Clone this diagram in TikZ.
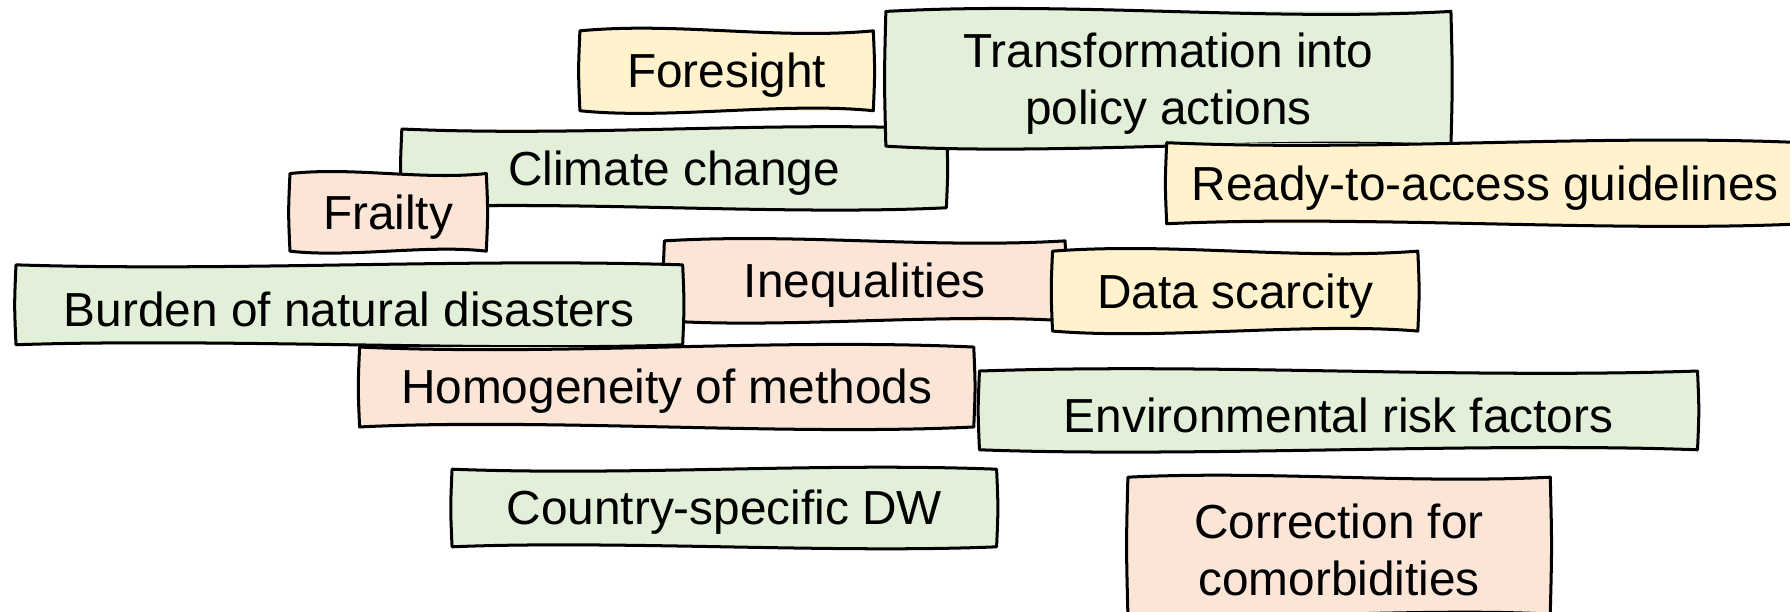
\documentclass[tikz,border=0pt]{standalone}
\usepackage{fontspec}
\setmainfont{Liberation Sans}
\usetikzlibrary{calc}
\definecolor{skgreen}{HTML}{E2F0D9}
\definecolor{skpeach}{HTML}{FBE5D6}
\definecolor{skyellow}{HTML}{FFF2CC}
\tikzset{
  skline/.style={draw=black, line width=0.75pt, line join=round},
  sktext/.style={inner sep=0pt, align=center, font=\fontsize{11.9}{14.2}\selectfont},
}
% #1 name, #2 colour, #3 left, #4 top, #5 right, #6 bottom, #7 wave, #8 text
\newcommand\skbox[8]{%
  \coordinate (#1-nw) at (#3,#4);
  \coordinate (#1-ne) at (#5,#4);
  \coordinate (#1-se) at (#5,#6);
  \coordinate (#1-sw) at (#3,#6);
  \fill[#2, shift={(2,3)}] (#1-nw) rectangle (#1-se);
  \path[skline, fill=#2]
    (#1-nw) .. controls ($(#1-nw)!.33!(#1-ne)+(0,#7)$) and ($(#1-nw)!.67!(#1-ne)-(0,#7)$) .. (#1-ne)
    .. controls ($(#1-ne)!.5!(#1-se)+(1.5,0)$) .. (#1-se)
    .. controls ($(#1-se)!.3!(#1-sw)+(0,#7)$) and ($(#1-se)!.7!(#1-sw)-(0,#7)$) .. (#1-sw)
    .. controls ($(#1-sw)!.5!(#1-nw)-(1.5,0)$) .. cycle;
  \node[sktext] (#1) at ($(#1-nw)!.5!(#1-se)+(0,4)$) {#8};
}
\begin{document}
\begin{tikzpicture}[x=0.01cm, y=-0.01cm]
\useasboundingbox (0,0) rectangle (1568,536);
\skbox{foresight}{skyellow}{508}{27}{765}{97}{-8}{Foresight}
\skbox{climate}{skgreen}{352}{113}{829}{182}{7}{Climate change}
\skbox{transf}{skgreen}{776}{10}{1271}{128}{-9}{Transformation into\\policy actions}
\skbox{ready}{skyellow}{1022}{125}{1580}{196}{8}{Ready-to-access guidelines}
\skbox{frailty}{skpeach}{254}{152}{426}{220}{-6}{Frailty}
\skbox{ineq}{skpeach}{582}{211}{933}{281}{-7}{Inequalities}
\skbox{burden}{skgreen}{14}{232}{598}{302}{6}{Burden of natural disasters}
\skbox{data}{skyellow}{922}{220}{1242}{290}{-8}{Data scarcity}
\skbox{homog}{skpeach}{315}{304}{853}{374}{8}{Homogeneity of methods}
\skbox{env}{skgreen}{858}{325}{1487}{394}{-7}{Environmental risk factors}
\skbox{country}{skgreen}{396}{411}{873}{479}{6}{Country-specific DW}
\skbox{corr}{skpeach}{988}{418}{1358}{538}{-6}{Correction for\\comorbidities}
\end{tikzpicture}
\end{document}
